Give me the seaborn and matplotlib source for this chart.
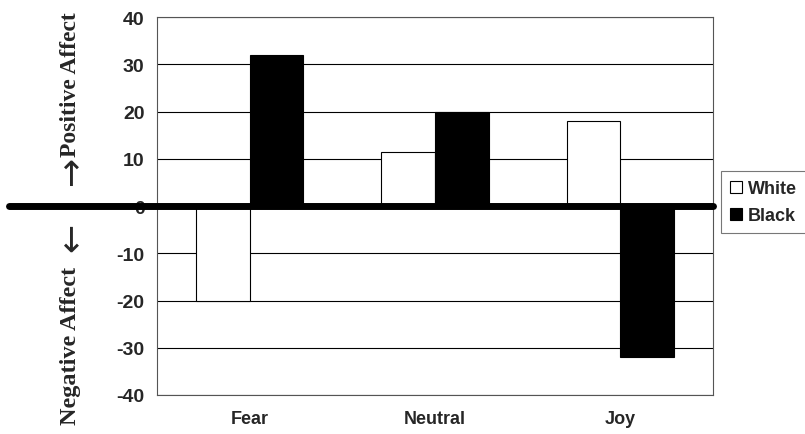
import numpy as np
import pandas as pd
import seaborn as sns
import matplotlib.pyplot as plt

# values
emotions = ["Fear", "Neutral", "Joy"]
white_vals = [-20, 11.5, 18]
black_vals = [32, 20, -32]
groups = ["White", "Black"]
yticks = [-40, -30, -20, -10, 0, 10, 20, 30, 40]

df = pd.DataFrame({
    "emotion": emotions * 2,
    "group": ["White"] * 3 + ["Black"] * 3,
    "affect": white_vals + black_vals,
})

sns.set_style("white")
plt.rcParams["font.family"] = ["Liberation Sans", "DejaVu Sans"]

fig = plt.figure(figsize=(8.05, 4.35), dpi=100)
ax = fig.add_axes([157 / 805, 1 - 396 / 435, 556 / 805, 378 / 435])

sns.barplot(data=df, x="emotion", y="affect", hue="group", order=emotions,
            hue_order=groups, palette=["white", "black"], edgecolor="black",
            linewidth=0.8, width=0.58, ax=ax, zorder=3)

ax.set_ylim(-40, 40)
ax.set_yticks(yticks)
ax.set_yticklabels([str(t) for t in yticks], fontsize=14, fontweight="bold")
ax.set_xticklabels(emotions, fontsize=13, fontweight="bold")
ax.tick_params(axis="x", length=0, pad=11)
ax.tick_params(axis="y", length=0, pad=9)
ax.grid(axis="y", color="black", lw=0.8, zorder=0)
ax.set_axisbelow(True)
ax.set_xlabel("")
ax.set_ylabel("")
for s in ax.spines.values():
    s.set_color("#555555")
    s.set_linewidth(0.8)

# thick zero line running out past the axis
ax.axhline(0, xmin=-0.266, xmax=1, color="black", lw=5, clip_on=False, zorder=5)

# affect labels, arrows drawn apart so they stay full size
serif = ["Liberation Serif", "DejaVu Serif"]
fig.text(70 / 805, 1 - 85 / 435, "Positive Affect", rotation=90,
         ha="center", va="center", fontsize=17, fontweight="bold", family=serif)
fig.text(70 / 805, 1 - 171 / 435, "\u2192", rotation=90,
         ha="center", va="center", fontsize=25, family=["DejaVu Sans"])
fig.text(70 / 805, 1 - 346 / 435, "Negative Affect", rotation=90,
         ha="center", va="center", fontsize=17.5, fontweight="bold", family=serif)
fig.text(70 / 805, 1 - 237 / 435, "\u2190", rotation=90,
         ha="center", va="center", fontsize=25, family=["DejaVu Sans"])

leg = ax.legend(loc="center left", bbox_to_anchor=(1.015, 0.51), frameon=True,
                fancybox=False, prop={"weight": "bold", "size": 13},
                handlelength=0.65, handleheight=0.65, handletextpad=0.3,
                borderpad=0.5, labelspacing=0.55, borderaxespad=0)
leg.get_frame().set_edgecolor("#555555")
leg.get_frame().set_linewidth(0.8)

fig.savefig("out.png", dpi=100)
